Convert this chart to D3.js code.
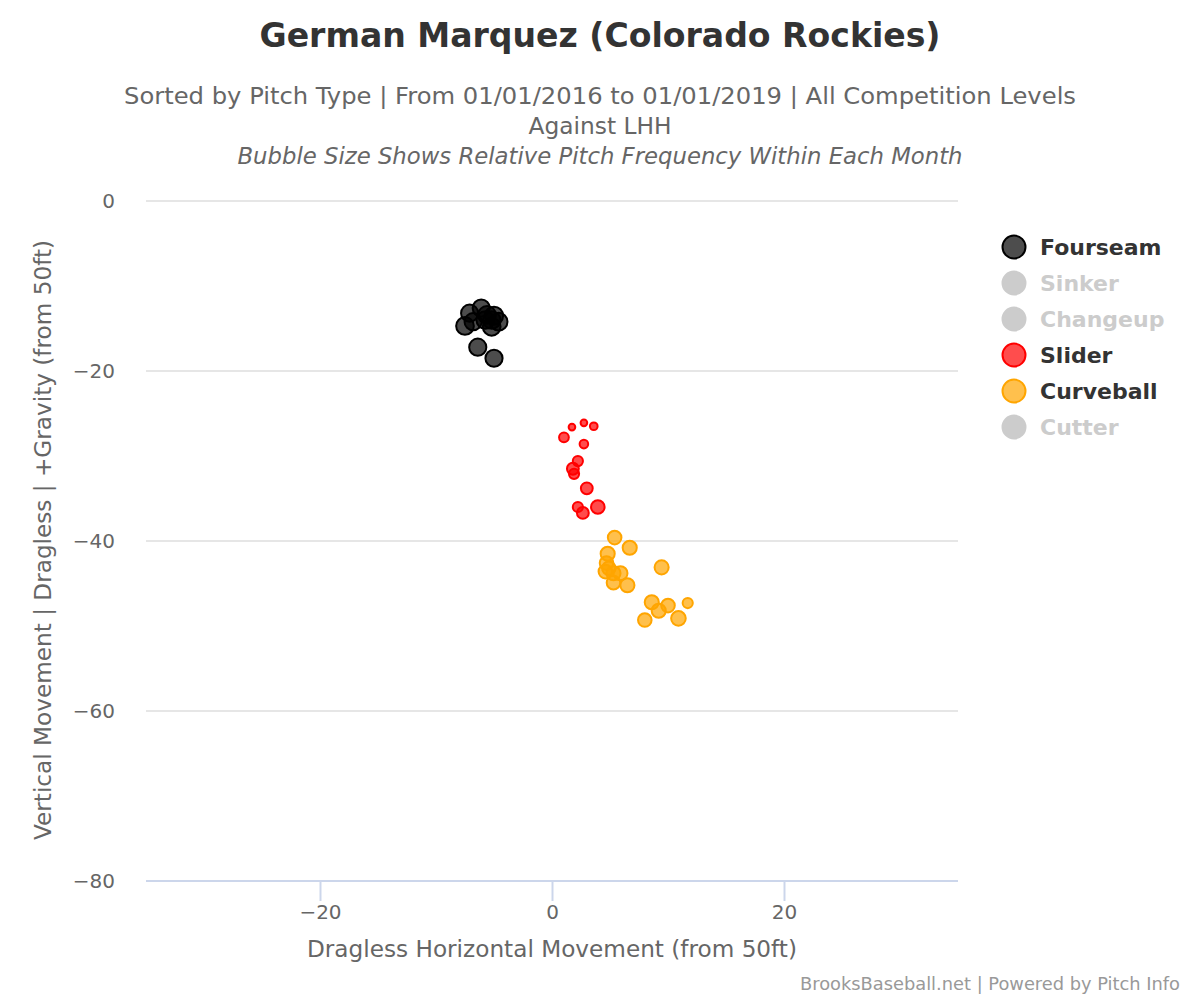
<!DOCTYPE html>
<html><head><meta charset="utf-8">
<script src="https://cdn.jsdelivr.net/npm/d3@7"></script>
<style>
body{margin:0;background:#fff;}
svg{font-family:"DejaVu Sans",sans-serif;}
</style></head>
<body><svg id="c" width="1200" height="1000"></svg>
<script>
const titleText = "German Marquez (Colorado Rockies)";
const subtitleLines = ["Sorted by Pitch Type | From 01/01/2016 to 01/01/2019 | All Competition Levels", "Against LHH"];
const subtitleItalic = "Bubble Size Shows Relative Pitch Frequency Within Each Month";
const xAxisTitle = "Dragless Horizontal Movement (from 50ft)";
const yAxisTitle = "Vertical Movement | Dragless | +Gravity (from 50ft)";
const credits = "BrooksBaseball.net | Powered by Pitch Info";
const xTicks = [-20, 0, 20];
const yTicks = [0, -20, -40, -60, -80];

const legendNames = ["Fourseam", "Sinker", "Changeup", "Slider", "Curveball", "Cutter"];
const legendVisible = [true, false, false, true, true, false];

const fourseamX = [-7.1, -6.1, -7.5, -6.8, -5.6, -5.0, -4.6, -5.2, -6.4, -5.0, -5.75, -5.2];
const fourseamY = [-13.2, -12.6, -14.7, -14.2, -13.4, -13.5, -14.2, -14.8, -17.2, -18.5, -14.0, -14.0];
const fourseamZ = [80, 80, 85, 80, 85, 90, 85, 85, 80, 80, 85, 85];

const sliderX = [1.72, 2.75, 3.6, 1.03, 2.75, 2.23, 1.8, 1.9, 3.0, 2.23, 2.66, 3.95];
const sliderY = [-26.6, -26.1, -26.5, -27.8, -28.6, -30.6, -31.5, -32.1, -33.8, -36.0, -36.7, -36.0];
const sliderZ = [12, 12, 16, 26, 20, 28, 38, 28, 38, 28, 38, 50];

const curveX = [5.4, 6.7, 4.8, 4.7, 4.9, 4.6, 5.3, 5.9, 5.3, 6.5, 9.45, 8.6, 9.2, 10.0, 11.7, 8.0, 10.9];
const curveY = [-39.6, -40.8, -41.5, -42.6, -43.2, -43.6, -43.8, -43.8, -44.9, -45.2, -43.1, -47.2, -48.2, -47.6, -47.3, -49.3, -49.1];
const curveZ = [50, 54, 54, 50, 50, 50, 54, 54, 50, 54, 54, 54, 54, 50, 28, 50, 58];

const series = [
  {name:"Fourseam", x:fourseamX, y:fourseamY, z:fourseamZ, fill:"rgba(0,0,0,0.7)", stroke:"#000", legendFill:"#4d4d4d"},
  {name:"Slider", x:sliderX, y:sliderY, z:sliderZ, fill:"rgba(255,0,0,0.7)", stroke:"#f00", legendFill:"#ff4d4d"},
  {name:"Curveball", x:curveX, y:curveY, z:curveZ, fill:"rgba(255,165,0,0.7)", stroke:"#ffa500", legendFill:"#ffc04d"}
];

const svg = d3.select("#c");
const L = 146, R = 958, T = 201, B = 881;
const x = d3.scaleLinear().domain([-35, 35]).range([L, R]);
const y = d3.scaleLinear().domain([0, -80]).range([T, B]);
const r = d3.scaleSqrt().domain([0, 100]).range([0, 9.6]);

function fitText(sel, w) {
  sel.attr("textLength", w).attr("lengthAdjust", "spacingAndGlyphs");
}

// title
svg.append("text").attr("x", 600).attr("y", 47).attr("text-anchor", "middle")
  .attr("font-size", 33).attr("font-weight", "bold").attr("fill", "#333").text(titleText).call(fitText, 681);
const subW = [952, 143];
subtitleLines.forEach((s, i) => {
  svg.append("text").attr("x", 600).attr("y", 104 + i * 30).attr("text-anchor", "middle")
    .attr("font-size", 23).attr("fill", "#666").text(s).call(fitText, subW[i]);
});
svg.append("text").attr("x", 600).attr("y", 164).attr("text-anchor", "middle")
  .attr("font-size", 23).attr("font-style", "italic").attr("fill", "#666").text(subtitleItalic).call(fitText, 725);

// grid
svg.append("g").selectAll("line").data(yTicks.filter(d => d !== -80)).join("line")
  .attr("x1", L).attr("x2", R).attr("y1", d => y(d)).attr("y2", d => y(d))
  .attr("stroke", "#e6e6e6").attr("stroke-width", 2);

// y axis labels
svg.append("g").selectAll("text").data(yTicks).join("text")
  .attr("x", 115).attr("y", d => y(d) + 7).attr("text-anchor", "end")
  .attr("font-size", 20).attr("fill", "#666").text(d => d === 0 ? "0" : "\u2212" + Math.abs(d));

// x axis
const xAxis = d3.axisBottom(x).tickValues(xTicks).tickSize(20).tickFormat(d => d < 0 ? "\u2212" + Math.abs(d) : d);
const gx = svg.append("g").attr("transform", `translate(0,${B})`).call(xAxis);
gx.select(".domain").attr("stroke", "#ccd6eb").attr("stroke-width", 2).attr("d", `M${L},0H${R}`);
gx.selectAll(".tick line").attr("stroke", "#ccd6eb").attr("stroke-width", 2);
gx.selectAll(".tick text").attr("font-size", 20).attr("fill", "#666").attr("y", 24).attr("dy", "0.71em")
  .style("font-family", "'DejaVu Sans',sans-serif");

svg.append("text").attr("x", 552).attr("y", 957).attr("text-anchor", "middle")
  .attr("font-size", 23).attr("fill", "#666").text(xAxisTitle).call(fitText, 490);
svg.append("text").attr("transform", "translate(51,540) rotate(-90)").attr("text-anchor", "middle")
  .attr("font-size", 23).attr("fill", "#666").text(yAxisTitle).call(fitText, 600);

// bubbles
series.forEach(s => {
  const pts = s.x.map((v, i) => ({x: v, y: s.y[i], z: s.z[i]}));
  svg.append("g").selectAll("circle").data(pts).join("circle")
    .attr("cx", d => x(d.x)).attr("cy", d => y(d.y)).attr("r", d => r(d.z))
    .attr("fill", s.fill).attr("stroke", s.stroke).attr("stroke-width", 2);
});

// legend
const colorMap = {Fourseam: series[0], Slider: series[1], Curveball: series[2]};
legendNames.forEach((n, i) => {
  const yy = 247 + i * 36;
  const vis = legendVisible[i];
  const s = colorMap[n];
  svg.append("circle").attr("cx", 1014).attr("cy", yy).attr("r", 11.5)
    .attr("fill", vis ? s.legendFill : "#ccc").attr("stroke", vis ? s.stroke : "#ccc").attr("stroke-width", 2);
  svg.append("text").attr("x", 1040).attr("y", yy + 8).attr("font-size", 22).attr("font-weight", "bold")
    .attr("fill", vis ? "#333" : "#ccc").text(n);
});

svg.append("text").attr("x", 1180).attr("y", 990).attr("text-anchor", "end")
  .attr("font-size", 18).attr("fill", "#999").text(credits).call(fitText, 380);
</script></body></html>
